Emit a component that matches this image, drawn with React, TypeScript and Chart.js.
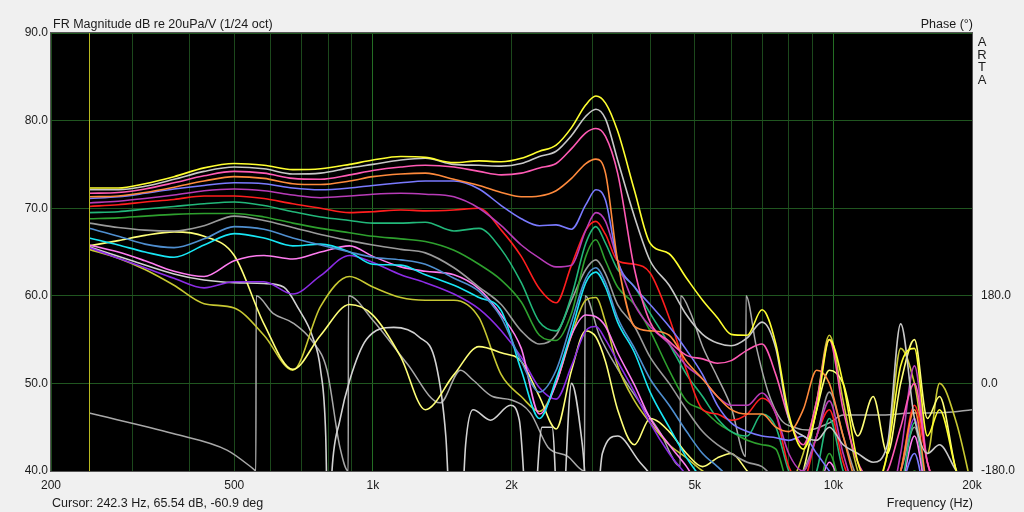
import { useEffect, useRef } from "react";
import { Chart, registerables } from "chart.js";

Chart.register(...registerables);

// shared frequency grid for the magnitude traces (Hz)
const HZ = [
  242, 280, 320, 370, 430, 500, 580, 670, 770, 890, 1000, 1150, 1300, 1500, 1700, 1900,
  2100, 2300, 2500, 2700, 2900, 3050, 3200, 3400, 3700, 4000, 4400, 4800, 5200, 5600,
  6000, 6500, 7000, 7500, 8000, 8600, 9200, 9800, 10500, 11300, 12200, 13100, 14000,
  15000, 16000, 17000, 18500, 20000,
];

// magnitude traces, dB re 20uPa/V
const Y1_DB = [
  72.3, 72.3, 72.8, 73.6, 74.6, 75.1, 74.9, 74.4, 74.5, 75.0, 75.5, 75.9, 75.8, 75.2, 75.4, 75.3,
  75.7, 76.5, 77.2, 79.2, 81.8, 82.8, 82.0, 78.8, 72.0, 66.0, 64.8, 62.0, 59.5, 57.5,
  55.6, 55.5, 58.4, 54.5, 46.5, 42.5, 47.0, 55.0, 50.0, 41.0, 38.0, 42.0, 52.0,
  54.0, 44.0, 47.0, 40.0, 36.0,
];
const W1_DB = [
  72.1, 72.1, 72.5, 73.3, 74.2, 74.7, 74.5, 73.9, 74.0, 74.6, 75.0, 75.5, 75.7, 75.0, 74.9, 74.8,
  75.1, 75.9, 76.5, 78.3, 80.5, 81.3, 80.2, 75.5, 69.0, 64.0, 61.2, 57.8, 55.6, 54.6,
  54.3, 55.2, 57.0, 54.0, 46.0, 44.0, 43.5, 45.0, 43.0, 42.0, 41.0, 43.0, 56.8,
  46.0, 42.0, 43.0, 40.0, 38.0,
];
const P1_DB = [
  71.7, 71.8, 72.2, 72.9, 73.7, 74.2, 74.0, 73.4, 73.3, 73.8, 74.3, 74.7, 74.9, 74.7, 74.2, 73.8,
  74.0, 74.6, 75.1, 76.8, 78.6, 79.1, 78.2, 74.0, 63.0, 57.0, 54.8, 53.2, 52.8, 52.3,
  52.6, 53.8, 54.5, 51.0, 46.0, 43.0, 48.0, 55.0, 47.0, 41.0, 39.0, 40.0, 45.0,
  50.0, 41.0, 38.0, 36.0, 35.0,
];
const O1_DB = [
  71.3, 71.4, 71.8, 72.4, 73.1, 73.6, 73.4, 72.8, 72.7, 73.1, 73.6, 73.9, 74.0, 73.3, 72.6, 71.8,
  71.3, 71.4, 72.0, 73.4, 75.1, 75.6, 74.0, 64.0, 56.5, 56.0, 55.5, 52.5, 50.5, 48.5,
  47.0, 46.5, 46.5, 45.0, 44.5, 47.0, 51.5, 50.0, 44.0, 38.0, 36.0, 36.0, 40.0,
  47.0, 38.0, 35.0, 35.0, 35.0,
];
const B1_DB = [
  71.1, 71.3, 71.7, 72.2, 72.6, 72.9, 72.8, 72.3, 72.1, 72.3, 72.6, 72.9, 73.1, 73.1, 72.2, 70.3,
  68.8, 68.0, 68.1, 67.6, 70.4, 72.1, 70.9, 64.0, 61.0, 59.0, 56.5, 53.8, 51.0, 47.5,
  45.5, 44.5, 44.0, 43.8, 43.5, 44.0, 42.0, 40.0, 38.0, 36.0, 36.0, 36.0, 38.0,
  42.0, 36.0, 35.0, 35.0, 35.0,
];
const M1_DB = [
  70.6, 70.8, 71.1, 71.5, 72.0, 72.2, 72.0, 71.5, 71.2, 71.4, 71.6, 71.7, 71.6, 71.3, 70.0, 68.0,
  65.8, 64.3, 63.3, 63.5, 67.5, 69.5, 68.5, 64.0, 59.0, 56.5, 54.5, 52.0, 50.5, 48.5,
  47.5, 47.5, 48.9, 46.5, 42.0, 40.0, 44.0, 48.0, 42.0, 37.0, 36.0, 36.0, 42.0,
  52.0, 41.0, 38.0, 35.0, 35.0,
];
const R1_DB = [
  70.2, 70.4, 70.7, 71.0, 71.4, 71.4, 71.1, 70.5, 70.0, 69.5, 69.6, 69.8, 69.7, 69.8, 70.0, 67.5,
  64.5, 60.8, 59.2, 63.5, 67.5, 68.5, 67.0, 64.0, 63.6, 62.6, 57.5, 51.5, 47.0, 46.5,
  45.8, 46.5, 48.3, 46.5, 40.5, 39.0, 44.0, 47.0, 41.0, 37.0, 36.0, 36.0, 40.0,
  47.5, 41.0, 37.0, 35.0, 35.0,
];
const G1_DB = [
  69.5, 69.6, 69.9, 70.2, 70.5, 70.7, 70.3, 69.6, 69.0, 68.6, 68.3, 68.3, 68.4, 67.4, 67.7, 65.3,
  61.5, 57.0, 56.0, 60.0, 66.0, 67.9, 66.0, 63.0, 61.0, 58.0, 54.5, 51.0, 48.5, 46.0,
  44.5, 44.0, 46.5, 45.0, 40.0, 37.0, 40.0, 46.0, 40.0, 36.0, 36.0, 36.0, 38.0,
  45.5, 38.0, 35.0, 35.0, 35.0,
];
const G2_DB = [
  68.8, 68.9, 69.1, 69.3, 69.4, 69.4, 69.0, 68.3, 67.7, 67.2, 66.8, 66.5, 66.2, 65.2, 63.6, 61.8,
  59.3, 55.5, 54.9, 58.0, 64.5, 66.4, 64.0, 61.0, 59.0, 56.0, 51.5, 48.0, 47.0, 45.5,
  44.5, 43.5, 43.0, 42.5, 38.0, 36.0, 37.0, 42.0, 37.0, 35.0, 35.0, 35.0, 36.0,
  40.0, 36.0, 35.0, 35.0, 35.0,
];
const GR1_DB = [
  68.3, 67.8, 67.5, 67.4, 68.0, 69.1, 68.6, 67.8, 67.0, 66.3, 65.8, 65.3, 64.9, 63.2, 61.0, 59.0,
  56.0, 54.5, 55.5, 59.5, 63.0, 64.1, 62.5, 59.0, 56.5, 53.0, 50.0, 47.0, 44.5, 43.0,
  42.0, 41.0, 40.5, 39.0, 38.0, 40.0, 44.0, 49.0, 44.0, 39.0, 37.0, 37.0, 40.0,
  45.0, 38.0, 36.0, 35.0, 35.0,
];
const SB_DB = [
  67.7, 66.8, 65.9, 65.5, 66.5, 67.9, 67.6, 66.6, 65.8, 65.0, 64.4, 64.1, 63.6, 62.0, 60.5, 57.5,
  52.5, 49.0, 51.5, 57.0, 62.0, 63.2, 61.5, 57.5, 54.0, 50.5, 47.5, 44.5, 42.0, 40.5,
  39.0, 37.0, 36.0, 36.0, 36.0, 36.0, 36.0, 36.0, 36.0, 36.0, 36.0, 36.0, 36.0,
  36.0, 36.0, 36.0, 36.0, 36.0,
];
const C1_DB = [
  66.6, 65.8, 65.0, 64.4, 65.8, 67.1, 66.6, 65.7, 65.9, 65.0, 63.6, 63.5, 62.4, 61.2, 59.8, 58.3,
  51.5, 46.0, 50.5, 56.0, 61.5, 62.7, 61.0, 57.0, 53.5, 49.0, 45.0, 41.5, 39.0, 37.0,
  36.0, 36.0, 36.0, 36.0, 36.0, 36.0, 36.0, 36.0, 36.0, 36.0, 36.0, 36.0, 36.0,
  36.0, 36.0, 36.0, 36.0, 36.0,
];
const V1_DB = [
  65.8, 65.0, 64.0, 62.8, 62.2, 64.0, 64.6, 64.2, 65.0, 65.7, 64.5, 63.3, 62.8, 62.4, 60.8, 57.8,
  54.0, 46.5, 50.0, 55.5, 57.8, 57.6, 56.5, 53.5, 49.8, 46.0, 43.0, 40.5, 38.0, 38.0,
  38.0, 38.0, 38.0, 38.0, 38.0, 38.0, 38.0, 41.0, 38.0, 37.0, 37.0, 37.0, 38.0,
  44.0, 37.0, 36.0, 36.0, 36.0,
];
const PU_DB = [
  65.5, 64.3, 63.2, 62.0, 60.9, 61.6, 61.6, 60.2, 62.3, 64.6, 63.8, 62.4, 61.5, 60.2, 58.5, 56.0,
  53.0, 49.5, 48.2, 52.0, 56.0, 56.5, 55.0, 52.5, 49.0, 45.5, 42.0, 39.5, 37.0, 37.0,
  37.0, 37.0, 37.0, 37.0, 37.0, 37.0, 37.0, 39.0, 37.0, 36.0, 36.0, 36.0, 40.0,
  46.0, 37.0, 36.0, 36.0, 36.0,
];
const Y3_DB = [
  65.7, 66.3, 66.9, 67.3, 66.8, 64.6, 56.8, 51.6, 55.5, 59.0, 57.8, 53.0, 47.0, 51.0, 54.2, 53.5,
  52.5, 48.5, 44.8, 51.5, 56.0, 55.3, 52.5, 47.0, 43.0, 46.0, 44.5, 42.0, 40.5, 41.5,
  42.0, 40.0, 38.0, 37.0, 36.0, 40.0, 47.0, 51.5, 50.0, 44.0, 48.5, 42.0, 50.0,
  55.0, 46.0, 48.5, 40.0, 37.0,
];
const Y4_DB = [
  65.3, 64.3, 63.0, 61.2, 59.1, 58.6, 55.5, 51.5, 58.8, 62.2, 61.0, 59.8, 59.5, 59.5, 57.5, 51.0,
  48.5, 46.8, 50.0, 55.5, 59.5, 59.8, 57.0, 52.0, 48.0, 45.5, 43.0, 41.5, 40.0, 39.0,
  38.0, 37.0, 37.0, 37.0, 38.0, 42.0, 48.0, 55.5, 48.0, 40.0, 38.0, 42.0, 54.0,
  50.0, 42.0, 50.0, 45.5, 38.0,
];

// light grey trace with deep notches, its own frequency points
const W2_HZ = [
  242, 300, 370, 430, 500, 580, 640, 690, 740, 770, 790, 800, 815, 848, 891, 968, 1110, 1260,
  1370, 1440, 1490, 1540, 1590, 1650, 1800, 1990, 2080, 2200, 2330, 2450, 2550, 2700, 2850,
  3000, 3150, 3400, 3800, 4300, 5000, 20000,
];
const W2_DB = [
  65.6, 64.0, 62.5, 61.8, 61.5, 61.4, 61.0, 58.5, 55.3, 51.5, 44, 30, 40, 45.8, 50.4, 55.0, 56.4,
  55.3, 52.3, 44, 30, 30, 43, 47.0, 45.8, 47.5, 45.8, 30, 45, 45, 30, 50, 43, 30, 42, 44, 41,
  38, 36, 36,
];

// wrapped phase, degrees (right axis)
const PH_HZ = [
  242, 368, 482, 549, 557, 558, 607, 671, 741, 795, 848, 884, 885, 1000, 1186, 1400, 1550, 1650,
  1820, 2000, 2200, 2400, 2650, 2880, 2890, 3100, 3400, 3800, 4200, 4650, 4660, 4900, 5200,
  5600, 6000, 6450, 6460, 6800, 7200, 7700, 8200, 8800, 9800, 10500, 12800, 14800, 17500, 20000,
];
const PH_DEG = [
  -61, -103, -137, -175, -180, 180, 144, 124, 85, 27, -131, -180, 180, 130, 41, -40, 27, 7, -27,
  -34, -61, -131, -150, -180, 180, 100, 30, -40, -100, -170, 180, 144, 76, 13, -49, -150, 180,
  76, -15, -75, -90, -96, -81, -65, -65, -61, -60, -54,
];

const GRID_HZ = [
  200, 300, 400, 500, 600, 700, 800, 900, 1000, 2000, 3000, 4000, 5000, 6000, 7000, 8000, 9000,
  10000, 20000,
];
const HZ_LABELS: Record<number, string> = {
  200: "200",
  500: "500",
  1000: "1k",
  2000: "2k",
  5000: "5k",
  10000: "10k",
  20000: "20k",
};
const PHASE_TICKS = [-180, 0, 180];
const CURSOR_HZ = 242.3;
const CURSOR_TEXT = "Cursor: 242.3 Hz, 65.54 dB, -60.9 deg";

const FONT = "'Liberation Sans', Arial, sans-serif";

const TRACES: { values: number[]; color: string }[] = [
  { values: Y1_DB, color: "#ffff30" },
  { values: W1_DB, color: "#c8c8c8" },
  { values: P1_DB, color: "#ff5ab4" },
  { values: O1_DB, color: "#ff8a3c" },
  { values: B1_DB, color: "#7a7aff" },
  { values: M1_DB, color: "#b83cb8" },
  { values: R1_DB, color: "#ff1e1e" },
  { values: G1_DB, color: "#22b87a" },
  { values: G2_DB, color: "#2ea02e" },
  { values: GR1_DB, color: "#9a9a9a" },
  { values: SB_DB, color: "#4f8fd0" },
  { values: C1_DB, color: "#18e6f5" },
  { values: V1_DB, color: "#ff7cf0" },
  { values: PU_DB, color: "#8c2ce6" },
  { values: Y3_DB, color: "#ffff78" },
  { values: Y4_DB, color: "#c8c832" },
];

const artaFrame = {
  id: "artaFrame",
  beforeDraw: (chart: Chart) => {
    const { ctx, chartArea: a, width, height } = chart;
    ctx.save();
    ctx.fillStyle = "#f0f0f0";
    ctx.fillRect(0, 0, width, height);
    ctx.fillStyle = "#000000";
    ctx.fillRect(a.left, a.top, a.right - a.left, a.bottom - a.top);
    ctx.restore();
  },
  afterDraw: (chart: Chart) => {
    const { ctx, chartArea: a } = chart;
    ctx.save();

    // cursor marker
    const cx = Math.round(chart.scales.x.getPixelForValue(CURSOR_HZ));
    ctx.fillStyle = "#b8b820";
    ctx.fillRect(cx, a.top, 1, a.bottom - a.top);

    ctx.strokeStyle = "#555555";
    ctx.lineWidth = 1;
    ctx.strokeRect(a.left - 0.5, a.top - 0.5, a.right - a.left + 1, a.bottom - a.top + 1);

    ctx.fillStyle = "#1a1a1a";
    ctx.font = `12.5px ${FONT}`;
    ctx.textBaseline = "alphabetic";
    ctx.textAlign = "left";
    ctx.fillText("FR Magnitude dB re 20uPa/V (1/24 oct)", a.left + 2, 28);
    ctx.fillText(CURSOR_TEXT, a.left + 1, 507);
    ctx.textAlign = "right";
    ctx.fillText("Phase (°)", a.right + 1, 28);
    ctx.fillText("Frequency (Hz)", a.right + 1, 507);

    ctx.textAlign = "center";
    ctx.font = `13px ${FONT}`;
    "ARTA".split("").forEach((ch, i) => {
      ctx.fillText(ch, a.right + 10, 46 + i * 12.5);
    });
    ctx.restore();
  },
};

function ArtaChart() {
  const canvasRef = useRef<HTMLCanvasElement | null>(null);
  const chartRef = useRef<Chart | null>(null);

  useEffect(() => {
    if (!canvasRef.current) {
      return;
    }
    if (chartRef.current) {
      chartRef.current.destroy();
    }

    const magnitude = TRACES.map((t) => ({
      data: HZ.map((f, i) => ({ x: f, y: t.values[i] })),
      borderColor: t.color,
      borderWidth: 1.6,
      pointRadius: 0,
      cubicInterpolationMode: "monotone" as const,
      yAxisID: "y",
    }));

    const notched = {
      data: W2_HZ.map((f, i) => ({ x: f, y: W2_DB[i] })),
      borderColor: "#d2d2d2",
      borderWidth: 1.6,
      pointRadius: 0,
      cubicInterpolationMode: "monotone" as const,
      yAxisID: "y",
    };

    const phase = {
      data: PH_HZ.map((f, i) => ({ x: f, y: PH_DEG[i] })),
      borderColor: "#a8a8a8",
      borderWidth: 1.5,
      pointRadius: 0,
      cubicInterpolationMode: "monotone" as const,
      yAxisID: "phase",
    };

    const dim = "rgb(28,72,28)";
    const bright = "rgb(36,110,36)";

    chartRef.current = new Chart(canvasRef.current, {
      type: "line",
      data: { datasets: [...magnitude, notched, phase] },
      plugins: [artaFrame],
      options: {
        animation: false,
        responsive: true,
        maintainAspectRatio: false,
        events: [],
        layout: { padding: { top: 33, left: 0, right: 0, bottom: 0 } },
        plugins: {
          legend: { display: false },
          tooltip: { enabled: false },
        },
        scales: {
          x: {
            type: "logarithmic",
            min: 200,
            max: 20000,
            afterBuildTicks: (scale: any) => {
              scale.ticks = GRID_HZ.map((v) => ({ value: v }));
            },
            afterFit: (scale: any) => {
              scale.height = 41;
            },
            grid: {
              drawTicks: false,
              color: (c: any) =>
                c.tick && (c.tick.value === 1000 || c.tick.value === 10000) ? bright : dim,
            },
            border: { display: false },
            ticks: {
              autoSkip: false,
              maxRotation: 0,
              padding: 7,
              color: "#1a1a1a",
              font: { family: FONT, size: 12 },
              callback: (v: any) => HZ_LABELS[Number(v)] ?? "",
            },
          },
          y: {
            type: "linear",
            position: "left",
            min: 40,
            max: 90,
            afterFit: (scale: any) => {
              scale.width = 51;
            },
            grid: { drawTicks: false, color: "rgb(32,86,32)" },
            border: { display: false },
            ticks: {
              stepSize: 10,
              padding: 3,
              color: "#1a1a1a",
              font: { family: FONT, size: 12 },
              callback: (v: any) => Number(v).toFixed(1),
            },
          },
          phase: {
            type: "linear",
            position: "right",
            min: -180,
            max: 720,
            afterBuildTicks: (scale: any) => {
              scale.ticks = PHASE_TICKS.map((v) => ({ value: v }));
            },
            afterFit: (scale: any) => {
              scale.width = 52;
            },
            grid: { display: false, drawTicks: false },
            border: { display: false },
            ticks: {
              padding: 9,
              color: "#1a1a1a",
              font: { family: FONT, size: 12 },
              callback: (v: any) => Number(v).toFixed(1),
            },
          },
        },
      } as any,
    });

    return () => {
      chartRef.current?.destroy();
      chartRef.current = null;
    };
  }, []);

  return <canvas ref={canvasRef} />;
}

export default function App() {
  useEffect(() => {
    document.body.style.margin = "0";
  }, []);

  return (
    <div style={{ width: 1024, height: 512, position: "relative", background: "#f0f0f0" }}>
      <ArtaChart />
    </div>
  );
}
